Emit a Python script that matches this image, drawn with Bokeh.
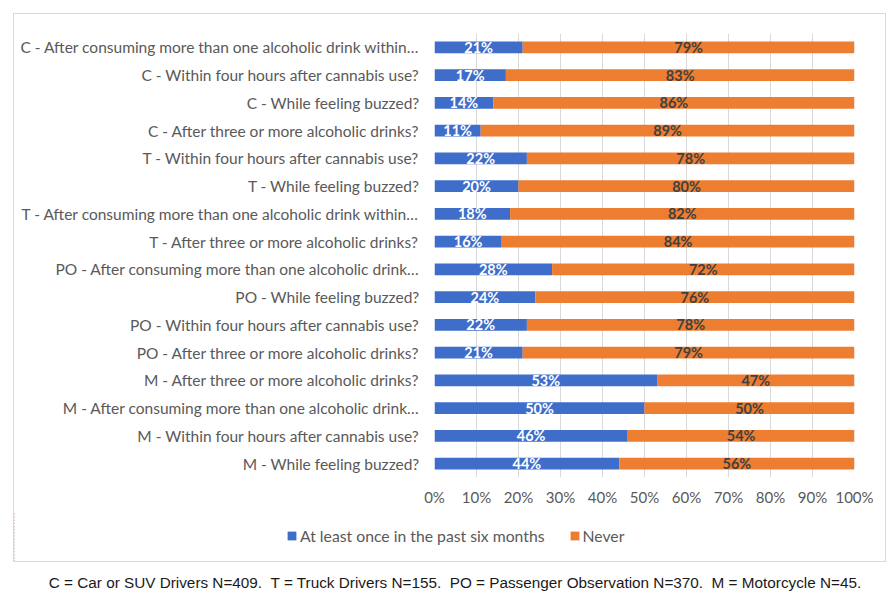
from bokeh.plotting import figure
from bokeh.models import (ColumnDataSource, FactorRange, Range1d, FixedTicker,
                          PrintfTickFormatter, Legend, LegendItem, Div)
from bokeh.layouts import column, row
from bokeh.core.properties import value
from bokeh.embed import file_html
from bokeh.resources import INLINE

categories = [
    "C - After consuming more than one alcoholic drink within…",
    "C - Within four hours after cannabis use?",
    "C - While feeling buzzed?",
    "C - After three or more alcoholic drinks?",
    "T - Within four hours after cannabis use?",
    "T - While feeling buzzed?",
    "T - After consuming more than one alcoholic drink within…",
    "T - After three or more alcoholic drinks?",
    "PO - After consuming more than one alcoholic drink…",
    "PO - While feeling buzzed?",
    "PO - Within four hours after cannabis use?",
    "PO - After three or more alcoholic drinks?",
    "M - After three or more alcoholic drinks?",
    "M - After consuming more than one alcoholic drink…",
    "M - Within four hours after cannabis use?",
    "M - While feeling buzzed?",
]
at_least_once = [21, 17, 14, 11, 22, 20, 18, 16, 28, 24, 22, 21, 53, 50, 46, 44]
never = [79, 83, 86, 89, 78, 80, 82, 84, 72, 76, 78, 79, 47, 50, 54, 56]
x_ticks = [0, 10, 20, 30, 40, 50, 60, 70, 80, 90, 100]
series_names = ["At least once in the past six months", "Never"]
caption = ("C = Car or SUV Drivers N=409.\u00a0\u00a0T = Truck Drivers N=155.\u00a0\u00a0"
           "PO = Passenger Observation N=370.\u00a0\u00a0M = Motorcycle N=45.")

BLUE = "#3F6ECA"
ORANGE = "#ED7D31"
FONT = "Lato"
BORDER = "1px solid #d9d9d9"

source = ColumnDataSource(dict(
    cat=categories,
    yes=at_least_once,
    never=never,
    yes_mid=[a / 2 for a in at_least_once],
    never_mid=[a + b / 2 for a, b in zip(at_least_once, never)],
    yes_lbl=[f"{a}%" for a in at_least_once],
    never_lbl=[f"{b}%" for b in never],
))

# ---- main chart ----
p = figure(width=873, height=499, output_backend="svg", toolbar_location=None,
           y_range=FactorRange(factors=list(reversed(categories)), range_padding=0),
           x_range=Range1d(0, 100),
           min_border_left=420, min_border_right=33, min_border_top=19, min_border_bottom=36)
p.margin = (13, 0, 0, 13)
p.styles = {"border": BORDER, "border-bottom": "none", "box-sizing": "border-box"}
p.outline_line_color = None
p.background_fill_color = "white"
p.border_fill_color = None

rs = p.hbar_stack(["yes", "never"], y="cat", height=0.43, color=[BLUE, ORANGE],
                  line_color=None, source=source)

p.text(x="yes_mid", y="cat", text="yes_lbl", source=source, text_color="white",
       text_font=value(FONT), text_font_style="bold", text_font_size="14.5px",
       text_align="center", text_baseline="middle")
p.text(x="never_mid", y="cat", text="never_lbl", source=source, text_color="#404040",
       text_font=value(FONT), text_font_style="bold", text_font_size="14.5px",
       text_align="center", text_baseline="middle")

p.xaxis.ticker = FixedTicker(ticks=x_ticks)
p.xaxis.formatter = PrintfTickFormatter(format="%d%%")
p.xgrid.ticker = FixedTicker(ticks=x_ticks)
p.xgrid.grid_line_color = "#d9d9d9"
p.ygrid.grid_line_color = None
for ax in (p.xaxis[0], p.yaxis[0]):
    ax.axis_line_color = None
    ax.major_tick_line_color = None
    ax.minor_tick_line_color = None
    ax.major_tick_out = 0
    ax.major_tick_in = 0
    ax.major_label_text_font = FONT
    ax.major_label_text_color = "#595959"
p.xaxis.major_label_text_font_size = "15px"
p.yaxis.major_label_text_font_size = "15.5px"
p.xaxis.major_label_standoff = 10
p.yaxis.major_label_standoff = 15

# ---- legend strip (same box, below the axis) ----
# the same two series are drawn here, outside the visible x range, only to key the legend
lg = figure(width=873, height=50, output_backend="svg", toolbar_location=None,
            x_axis_type=None, y_axis_type=None, x_range=Range1d(200, 300),
            y_range=FactorRange(factors=list(reversed(categories))),
            min_border_left=0, min_border_right=0, min_border_top=0, min_border_bottom=0)
lg.margin = (0, 0, 0, 13)
lg.styles = {"border": BORDER, "border-top": "none", "box-sizing": "border-box"}
lg.outline_line_color = None
lg.grid.grid_line_color = None
lg.background_fill_color = None
lg.border_fill_color = None
lrs = lg.hbar_stack(["yes", "never"], y="cat", height=0.43, color=[BLUE, ORANGE],
                    line_color=None, source=source)

legend = Legend(items=[LegendItem(label=series_names[0], renderers=[lrs[0]]),
                       LegendItem(label=series_names[1], renderers=[lrs[1]])],
                orientation="horizontal", location=(272, 17), margin=0, padding=4,
                glyph_width=11, glyph_height=11, label_standoff=3, spacing=24,
                label_text_font=FONT, label_text_font_size="15.75px",
                label_text_color="#595959", label_height=16,
                border_line_color=None, background_fill_alpha=0)
lg.add_layout(legend, "center")

cap = Div(text=caption, width=862, height=30, margin=(0, 0, 0, 24),
          styles={"font-family": "Liberation Sans", "font-size": "15.3px",
                  "color": "#1a1a1a", "text-align": "center", "line-height": "16px",
                  "padding-top": "13px", "box-sizing": "border-box",
                  "white-space": "nowrap"})

layout = column(row(p), row(lg), row(cap), spacing=0)
open("out.html", "w").write(file_html(layout, INLINE))
